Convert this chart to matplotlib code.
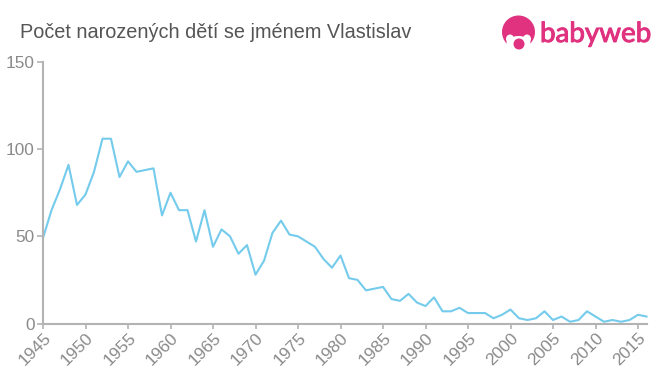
import matplotlib
matplotlib.use('Agg')
import matplotlib.pyplot as plt
import matplotlib.patheffects as pe
from matplotlib.patches import Circle, Ellipse

years = list(range(1945, 2017))
counts = [49, 65, 77, 91, 68, 74, 87, 106, 106, 84, 93, 87, 88, 89, 62, 75, 65, 65,
          47, 65, 44, 54, 50, 40, 45, 28, 36, 52, 59, 51, 50, 47, 44, 37, 32, 39,
          26, 25, 19, 20, 21, 14, 13, 17, 12, 10, 15, 7, 7, 9, 6, 6, 6, 3, 5, 8,
          3, 2, 3, 7, 2, 4, 1, 2, 7, 4, 1, 2, 1, 2, 5, 4]
x_ticks = list(range(1945, 2016, 5))
y_ticks = [0, 50, 100, 150]
title = 'Počet narozených dětí se jménem Vlastislav'

plt.rcParams['font.family'] = ['Liberation Sans', 'DejaVu Sans']

W, H = 660, 375
fig = plt.figure(figsize=(W / 100, H / 100), dpi=100)
ax = fig.add_axes([43 / W, 1 - 323.5 / H, (646.5 - 43) / W, (323.5 - 62) / H])

ax.plot(years, counts, color='#74cbec', lw=1.5, clip_on=False)
ax.set_xlim(1945, 2016)
ax.set_ylim(0, 150)
ax.set_xticks(x_ticks)
ax.set_yticks(y_ticks)
ax.set_xticklabels(x_ticks, rotation=45, ha='right', rotation_mode='anchor')
ax.tick_params(axis='x', colors='#b3b3b3', length=3.5, width=1.2,
               labelcolor='#8a8a8a', labelsize=12.4, pad=1.5)
ax.tick_params(axis='y', colors='#b3b3b3', length=4, width=1.2,
               labelcolor='#8a8a8a', labelsize=12.4, pad=2)
for side in ['top', 'right']:
    ax.spines[side].set_visible(False)
for side in ['left', 'bottom']:
    ax.spines[side].set_color('#b3b3b3')
    ax.spines[side].set_linewidth(1.5)

fig.text(20 / W, 1 - 32.5 / H, title, fontsize=14.35, color='#555555', va='center', ha='left')

# logo
pink = '#e0327f'
logo = fig.add_axes([0, 0, 1, 1], facecolor='none')
logo.set_xlim(0, W)
logo.set_ylim(H, 0)
logo.axis('off')
logo.add_patch(Circle((518.5, 32), 16.5, color=pink, lw=0))
logo.add_patch(Ellipse((510, 39), 8, 9, color='white', lw=0))
logo.add_patch(Ellipse((527, 39), 8, 9, color='white', lw=0))
logo.add_patch(Ellipse((518.5, 43), 24, 14, color='white', lw=0))
logo.add_patch(Circle((519, 44), 5.5, color=pink, lw=0))
logo.text(540, 34, 'babyweb', fontsize=20, color=pink, family=['Lato', 'DejaVu Sans'],
          va='center', ha='left',
          path_effects=[pe.withStroke(linewidth=0.7, foreground=pink)])

fig.savefig('out.png', dpi=100)
